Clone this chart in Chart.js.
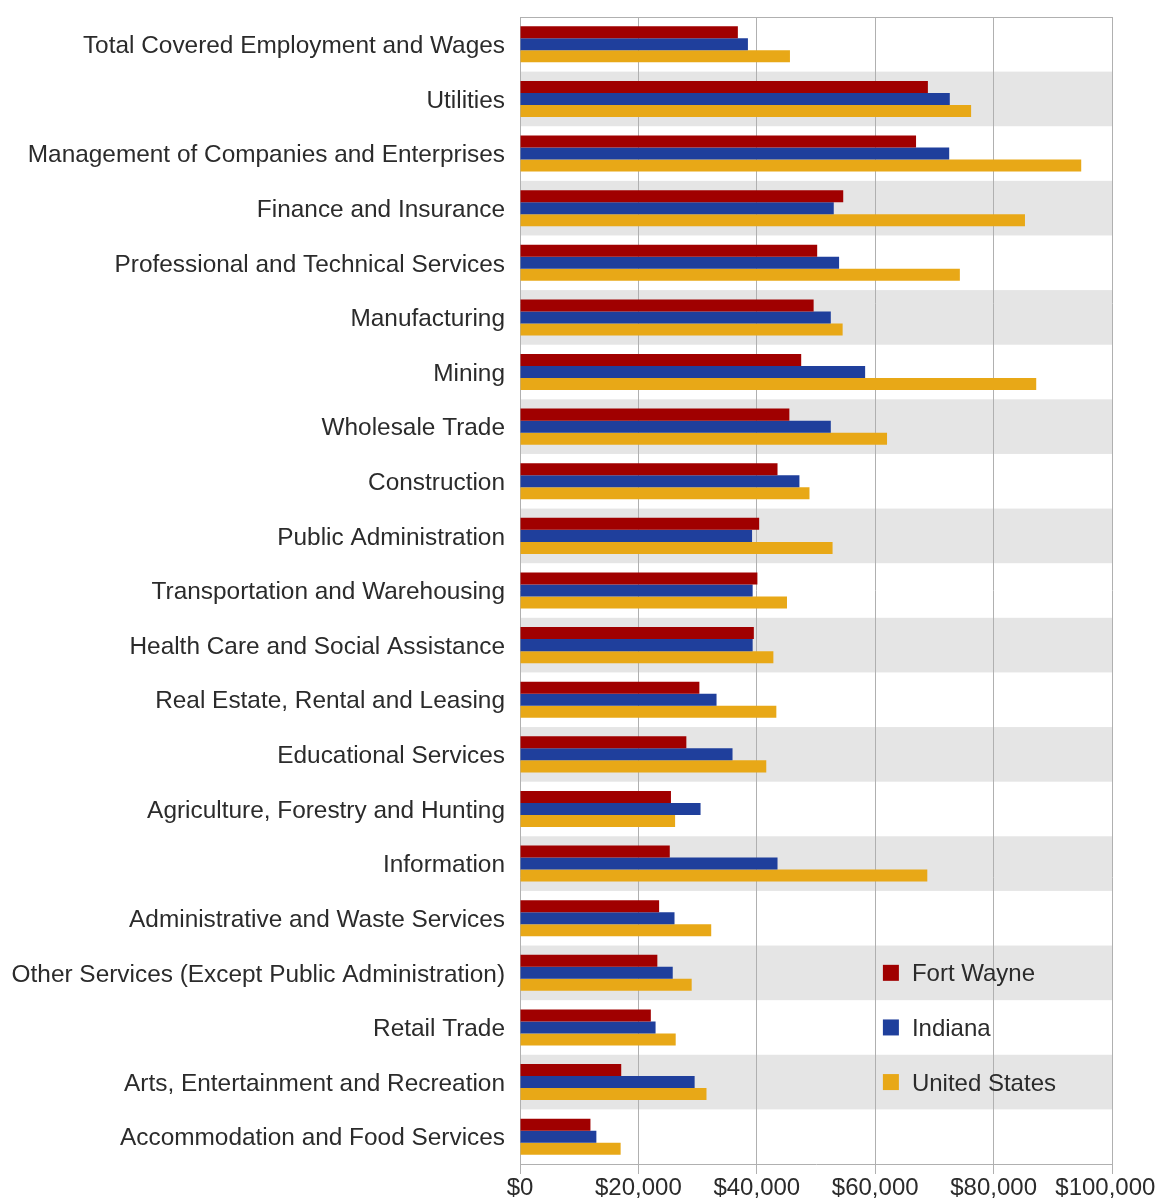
<!DOCTYPE html>
<html>
<head>
<meta charset="utf-8">
<script src="https://cdn.jsdelivr.net/npm/chart.js@4/dist/chart.umd.min.js"></script>
<style>
  body { margin: 0; background: #fff; }
  #wrap { width: 1157px; height: 1203px; position: relative; }
</style>
</head>
<body>
<div id="wrap"><canvas id="myChart"></canvas></div>
<script>
const industries = [
  'Total Covered Employment and Wages',
  'Utilities',
  'Management of Companies and Enterprises',
  'Finance and Insurance',
  'Professional and Technical Services',
  'Manufacturing',
  'Mining',
  'Wholesale Trade',
  'Construction',
  'Public Administration',
  'Transportation and Warehousing',
  'Health Care and Social Assistance',
  'Real Estate, Rental and Leasing',
  'Educational Services',
  'Agriculture, Forestry and Hunting',
  'Information',
  'Administrative and Waste Services',
  'Other Services (Except Public Administration)',
  'Retail Trade',
  'Arts, Entertainment and Recreation',
  'Accommodation and Food Services'
];

const fortWayne = [36800, 68900, 66900, 54600, 50200, 49600, 47500, 45500, 43500, 40400, 40100,
  39500, 30300, 28100, 25500, 25300, 23500, 23200, 22100, 17100, 11900];
const indiana = [38500, 72600, 72500, 53000, 53900, 52500, 58300, 52500, 47200, 39200, 39300,
  39300, 33200, 35900, 30500, 43500, 26100, 25800, 22900, 29500, 12900];
const unitedStates = [45600, 76200, 94800, 85300, 74300, 54500, 87200, 62000, 48900, 52800, 45100,
  42800, 43300, 41600, 26200, 68800, 32300, 29000, 26300, 31500, 17000];

const seriesNames = ['Fort Wayne', 'Indiana', 'United States'];
const seriesColors = ['#a00000', '#1f3f9c', '#e8a817'];
const xTicks = [0, 20000, 40000, 60000, 80000, 100000];

const fontName = '"Liberation Sans", Arial, Helvetica, sans-serif';

// grey bands behind every second row + top line of the box
const bandsPlugin = {
  id: 'bands',
  beforeDraw(chart) {
    const ctx = chart.ctx;
    const area = chart.chartArea;
    const rowH = area.height / industries.length;
    ctx.save();
    ctx.fillStyle = '#e5e5e5';
    for (let i = 1; i < industries.length; i += 2) {
      ctx.fillRect(area.left, area.top + i * rowH, area.right - area.left, rowH);
    }
    ctx.restore();
  },
  afterDraw(chart) {
    const ctx = chart.ctx;
    const area = chart.chartArea;
    ctx.save();
    ctx.strokeStyle = '#b0b0b0';
    ctx.lineWidth = 1;
    ctx.beginPath();
    ctx.moveTo(area.left, area.top + 0.5);
    ctx.lineTo(area.right, area.top + 0.5);
    ctx.stroke();
    ctx.restore();
  }
};

// legend sits inside the plot, lined up with the last rows
const insideLegend = {
  id: 'insideLegend',
  afterDatasetsDraw(chart) {
    const ctx = chart.ctx;
    const area = chart.chartArea;
    const yScale = chart.scales.y;
    const x = area.left + (area.right - area.left) * 0.613;
    ctx.save();
    ctx.font = '24px ' + fontName;
    ctx.textBaseline = 'middle';
    for (let k = 0; k < seriesNames.length; k++) {
      const y = yScale.getPixelForValue(17 + k);
      ctx.fillStyle = seriesColors[k];
      ctx.fillRect(x, y - 8, 16, 16);
      ctx.fillStyle = '#2b2b2b';
      ctx.fillText(seriesNames[k], x + 29, y + 2);
    }
    ctx.restore();
  }
};

const ctx = document.getElementById('myChart');

new Chart(ctx, {
  type: 'bar',
  data: {
    labels: industries,
    datasets: [
      { label: seriesNames[0], data: fortWayne, backgroundColor: seriesColors[0] },
      { label: seriesNames[1], data: indiana, backgroundColor: seriesColors[1] },
      { label: seriesNames[2], data: unitedStates, backgroundColor: seriesColors[2] }
    ]
  },
  options: {
    indexAxis: 'y',
    responsive: true,
    maintainAspectRatio: false,
    animation: false,
    categoryPercentage: 0.66,
    barPercentage: 1.0,
    layout: { padding: { top: 17, right: 45, left: 0, bottom: 0 } },
    plugins: {
      legend: { display: false },
      tooltip: { enabled: false }
    },
    scales: {
      x: {
        min: 0,
        max: 100000,
        afterBuildTicks(scale) {
          scale.ticks = xTicks.map(v => ({ value: v }));
        },
        afterFit(scale) {
          scale.height = 39;
          scale.paddingLeft = 0;
          scale.paddingRight = 0;
        },
        grid: { color: '#b0b0b0', lineWidth: 1, drawTicks: true, tickLength: 10 },
        border: { color: '#b0b0b0' },
        ticks: {
          padding: 0,
          color: '#2b2b2b',
          font: { family: fontName, size: 24 },
          maxRotation: 0,
          // last label gets pulled in from the canvas edge like the original
          callback: v => '$' + Number(v).toLocaleString('en-US') + (v === 100000 ? '  ' : '')
        }
      },
      y: {
        afterFit(scale) {
          scale.width = 520;
          scale.paddingTop = 0;
          scale.paddingBottom = 0;
        },
        grid: { display: false, drawTicks: false },
        border: { display: false },
        ticks: {
          padding: 15,
          labelOffset: 2,
          color: '#2b2b2b',
          font: { family: fontName, size: 24.4 },
          autoSkip: false
        }
      }
    }
  },
  plugins: [bandsPlugin, insideLegend]
});
</script>
</body>
</html>
